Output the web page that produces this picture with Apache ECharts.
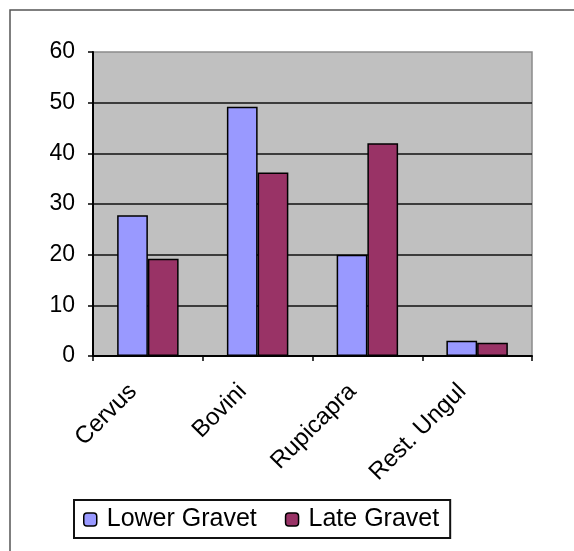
<!DOCTYPE html>
<html>
<head>
<meta charset="utf-8">
<script src="https://cdn.jsdelivr.net/npm/echarts@6/dist/echarts.min.js"></script>
<style>
  html, body { margin: 0; padding: 0; background: #fff; }
  #chart { width: 574px; height: 551px; }
</style>
</head>
<body>
<div id="chart"></div>
<script>
// Ungulate remains by taxon, two Gravettian phases (percent)
const categories = ['Cervus', 'Bovini', 'Rupicapra', 'Rest. Ungul'];
const lowerGravet = [27.8, 49.2, 20.0, 3.0];
const lateGravet = [19.2, 36.2, 42.0, 2.6];
const yTicks = { min: 0, max: 60, interval: 10 };

const chart = echarts.init(document.getElementById('chart'), null, { renderer: 'canvas' });

const fontFamily = '"Liberation Sans", Arial, sans-serif';
const barBorder = { borderColor: '#000', borderWidth: 1.5 };

chart.setOption({
  animation: false,
  backgroundColor: '#fff',
  textStyle: { fontFamily: fontFamily, color: '#000' },
  graphic: [{
    type: 'rect',
    shape: { x: 10, y: 10, width: 600, height: 600 },
    style: { fill: 'none', stroke: '#555', lineWidth: 1.5 },
    silent: true
  }],
  grid: {
    left: 93, top: 52, width: 439, height: 304,
    show: true,
    backgroundColor: '#C0C0C0',
    borderColor: '#8a8a8a',
    borderWidth: 1.5
  },
  legend: {
    left: 74, top: 500,
    padding: [7, 11, 6, 9],
    borderColor: '#111',
    borderWidth: 2,
    itemWidth: 13, itemHeight: 13,
    itemGap: 28,
    textStyle: { fontSize: 25, fontFamily: fontFamily, color: '#000', padding: [0, 0, 0, 5] },
    data: [
      { name: 'Lower Gravet', itemStyle: { color: '#9999FF', borderColor: '#000', borderWidth: 1.5 } },
      { name: 'Late Gravet', itemStyle: { color: '#993366', borderColor: '#000', borderWidth: 1.5 } }
    ]
  },
  xAxis: {
    type: 'category',
    data: categories,
    axisLine: { lineStyle: { color: '#000', width: 2 } },
    axisTick: { show: true, length: 5, lineStyle: { color: '#000', width: 1.5 } },
    axisLabel: {
      rotate: 45,
      margin: 17,
      padding: [0, 21, 0, 0],
      fontSize: 24,
      color: '#000',
      fontFamily: fontFamily
    }
  },
  yAxis: {
    type: 'value',
    min: yTicks.min, max: yTicks.max, interval: yTicks.interval,
    axisLine: { show: true, lineStyle: { color: '#000', width: 2 } },
    axisTick: { show: true, length: 5, lineStyle: { color: '#000', width: 1.5 } },
    axisLabel: { fontSize: 23, color: '#000', margin: 18, fontFamily: fontFamily },
    splitLine: { show: true, showMaxLine: false, lineStyle: { color: '#111', width: 1.5 } }
  },
  series: [
    {
      name: 'Lower Gravet', type: 'bar', data: lowerGravet,
      barGap: '0%', barCategoryGap: '44%',
      itemStyle: Object.assign({ color: '#9999FF' }, barBorder)
    },
    {
      name: 'Late Gravet', type: 'bar', data: lateGravet,
      itemStyle: Object.assign({ color: '#993366' }, barBorder)
    }
  ]
});
</script>
</body>
</html>
